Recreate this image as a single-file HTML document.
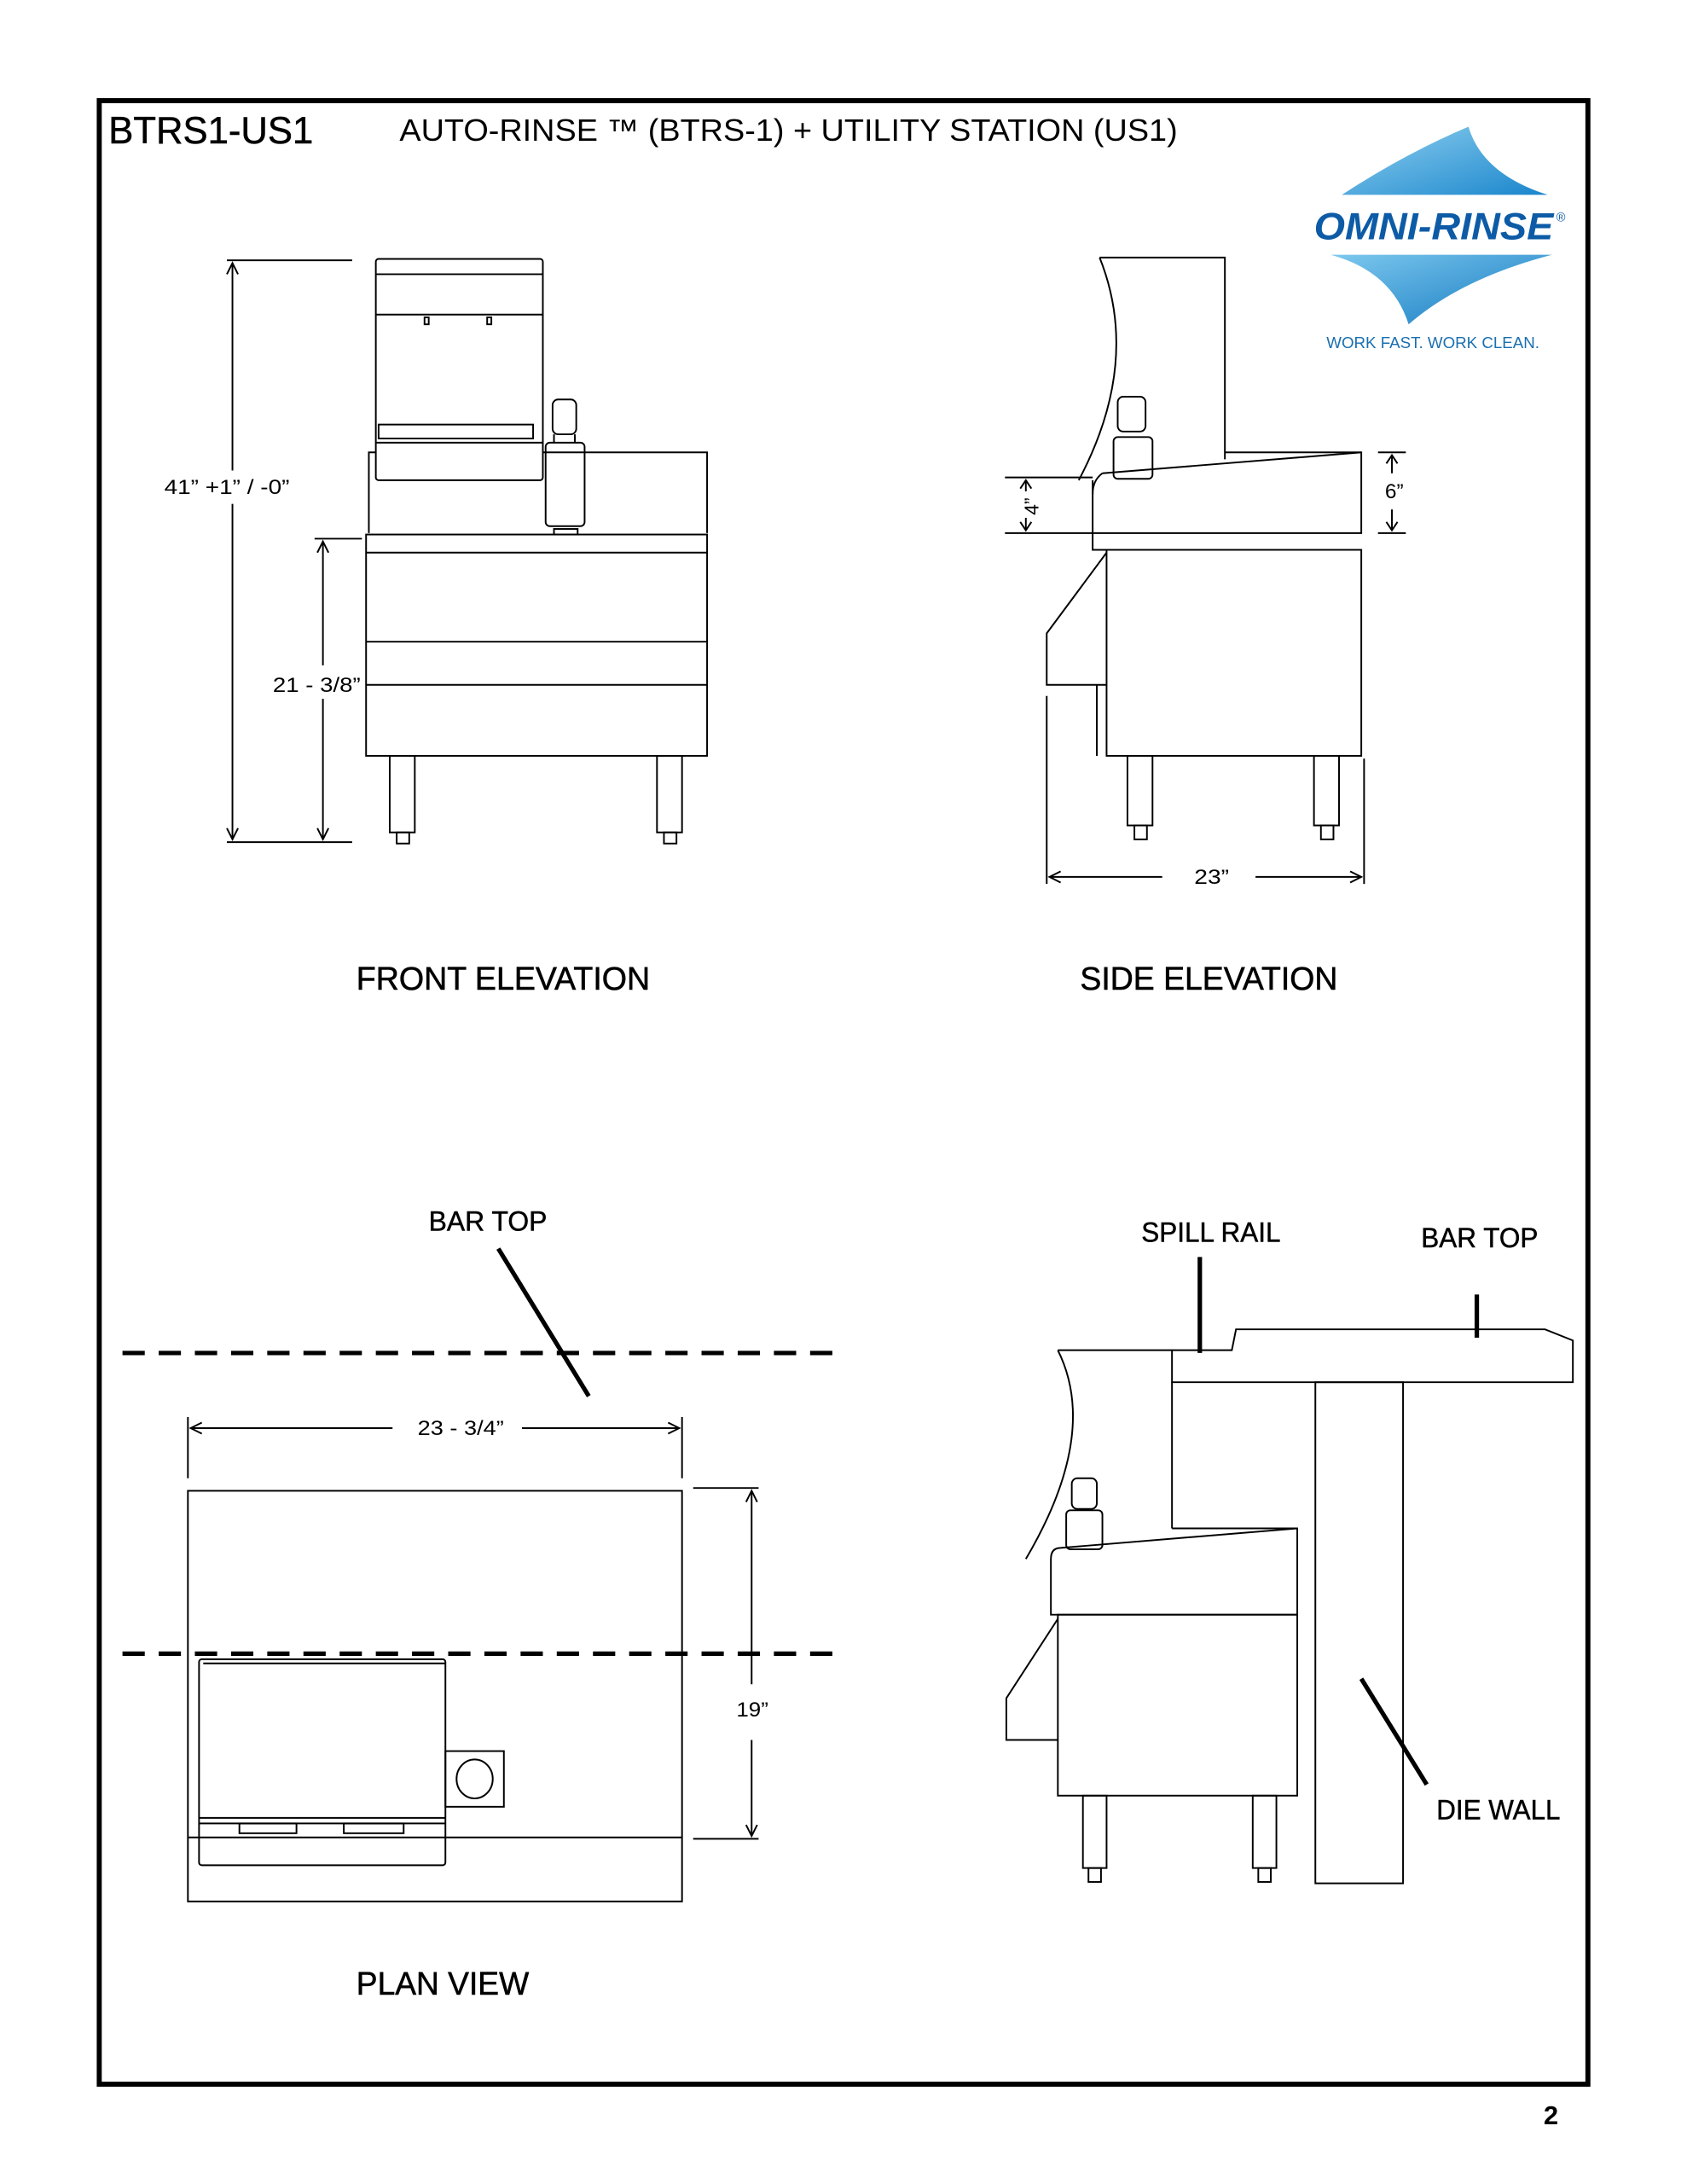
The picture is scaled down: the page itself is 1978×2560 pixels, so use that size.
<!DOCTYPE html>
<html><head><meta charset="utf-8">
<style>
html,body{margin:0;padding:0;background:#fff;}
svg{display:block;}
text{font-family:"Liberation Sans",sans-serif;}
</style></head>
<body>
<svg width="1978" height="2560" viewBox="0 0 1212 1569" preserveAspectRatio="none" xmlns="http://www.w3.org/2000/svg">
<defs>
<linearGradient id="g1" x1="0" y1="0" x2="1" y2="1">
<stop offset="0" stop-color="#8fd0f0"/><stop offset="1" stop-color="#1a86cc"/>
</linearGradient>
<linearGradient id="g2" x1="0" y1="0" x2="1" y2="1">
<stop offset="0" stop-color="#7cc8ee"/><stop offset="1" stop-color="#1278c0"/>
</linearGradient>
</defs>
<rect x="0" y="0" width="1212" height="1569" fill="#fff"/>
<!-- frame -->
<rect x="71.3" y="72.3" width="1069.5" height="1425" fill="none" stroke="#000" stroke-width="3.6"/>
<text x="78" y="103" font-size="27" stroke="#000" stroke-width="0.3" textLength="147" lengthAdjust="spacingAndGlyphs">BTRS1-US1</text>
<text x="287" y="101" font-size="22" textLength="559" lengthAdjust="spacingAndGlyphs">AUTO-RINSE ™ (BTRS-1) + UTILITY STATION (US1)</text>
<!-- logo -->
<path d="M964,140 Q1010,110 1055,91 Q1065,125 1112,140 Z" fill="url(#g1)"/>
<path d="M956,183 L1115,183 Q1050,200 1012,233 Q1000,195 956,183 Z" fill="url(#g2)"/>
<text x="944" y="172" font-size="27" font-weight="bold" font-style="italic" fill="#0d5ba6" textLength="172" lengthAdjust="spacingAndGlyphs">OMNI-RINSE</text>
<text x="1118" y="159" font-size="9" fill="#0d5ba6">®</text>
<text x="953" y="250" font-size="11.5" fill="#1a6fb0" textLength="153" lengthAdjust="spacingAndGlyphs">WORK FAST. WORK CLEAN.</text>

<g fill="none" stroke="#000" stroke-width="1.2">
<!-- FRONT ELEVATION dims -->
<line x1="163" y1="187" x2="253" y2="187"/>
<line x1="163" y1="605" x2="253" y2="605"/>
<line x1="167" y1="189" x2="167" y2="338"/>
<line x1="167" y1="362" x2="167" y2="603"/>
<path d="M163,197 L167,189 L171,197 M163,595 L167,603 L171,595"/>
<line x1="226" y1="387" x2="260" y2="387"/>
<line x1="232" y1="389" x2="232" y2="478"/>
<line x1="232" y1="502" x2="232" y2="603"/>
<path d="M228,397 L232,389 L236,397 M228,595 L232,603 L236,595"/>
<!-- tower -->
<rect x="270" y="186" width="120" height="159" rx="2"/>
<line x1="270" y1="197" x2="390" y2="197"/>
<line x1="270" y1="226" x2="390" y2="226"/>
<rect x="305" y="228" width="3" height="5"/>
<rect x="350" y="228" width="3" height="5"/>
<rect x="272" y="305" width="111" height="10"/>
<line x1="270" y1="318" x2="390" y2="318"/>
<!-- backsplash box -->
<path d="M270,325 L265,325 L265,383 M390,325 L508,325 L508,383"/>
<!-- faucet -->
<rect x="397" y="287" width="17" height="25" rx="4"/>
<rect x="392" y="318" width="28" height="60" rx="3"/>
<line x1="398" y1="312" x2="398" y2="318"/><line x1="413" y1="312" x2="413" y2="318"/>
<rect x="398" y="380" width="17" height="4"/>
<!-- base cabinet -->
<rect x="263" y="384" width="245" height="159"/>
<line x1="263" y1="397" x2="508" y2="397"/>
<line x1="263" y1="461" x2="508" y2="461"/>
<line x1="263" y1="492" x2="508" y2="492"/>
<rect x="280" y="543" width="18" height="55"/>
<rect x="285" y="598" width="9" height="8"/>
<rect x="472" y="543" width="18" height="55"/>
<rect x="477" y="598" width="9" height="8"/>

<!-- SIDE ELEVATION -->
<path d="M790,185 L880,185 L880,330"/>
<path d="M790,185 Q820,260 775,345"/>
<path d="M785,345 L785,383 L978,383 L978,325 L880,325"/>
<path d="M792,340 Q785,345 785,355"/>
<path d="M792,340 L978,325"/>
<rect x="800" y="314" width="28" height="30" rx="3"/>
<rect x="803" y="285" width="20" height="25" rx="4"/>
<path d="M785,383 L785,395 L795,395"/>
<rect x="795" y="395" width="183" height="148"/>
<path d="M795,397 L752,455 L752,492 L795,492"/>
<line x1="788" y1="492" x2="788" y2="543"/>
<rect x="810" y="543" width="18" height="50"/>
<rect x="815" y="593" width="9" height="10"/>
<rect x="944" y="543" width="18" height="50"/>
<rect x="949" y="593" width="9" height="10"/>
<!-- 4" -->
<line x1="722" y1="343" x2="785" y2="343"/>
<line x1="722" y1="383" x2="785" y2="383"/>
<line x1="737" y1="345" x2="737" y2="353"/>
<line x1="737" y1="372" x2="737" y2="381"/>
<path d="M733,351 L737,345 L741,351 M733,375 L737,381 L741,375"/>
<!-- 6" -->
<line x1="990" y1="325" x2="1010" y2="325"/>
<line x1="990" y1="383" x2="1010" y2="383"/>
<line x1="1000" y1="327" x2="1000" y2="340"/>
<line x1="1000" y1="366" x2="1000" y2="381"/>
<path d="M996,333 L1000,327 L1004,333 M996,375 L1000,381 L1004,375"/>
<!-- 23" -->
<line x1="752" y1="500" x2="752" y2="635"/>
<line x1="980" y1="545" x2="980" y2="635"/>
<line x1="754" y1="630" x2="835" y2="630"/>
<line x1="902" y1="630" x2="978" y2="630"/>
<path d="M762,626 L754,630 L762,634 M970,626 L978,630 L970,634"/>

<!-- PLAN VIEW -->
<line x1="135" y1="1018" x2="135" y2="1062"/>
<line x1="490" y1="1018" x2="490" y2="1062"/>
<line x1="137" y1="1026" x2="282" y2="1026"/>
<line x1="375" y1="1026" x2="488" y2="1026"/>
<path d="M145,1022 L137,1026 L145,1030 M480,1022 L488,1026 L480,1030"/>
<rect x="135" y="1071" width="355" height="295"/>
<line x1="135" y1="1320" x2="490" y2="1320"/>
<rect x="143" y="1192" width="177" height="148" rx="2"/>
<line x1="146" y1="1195" x2="320" y2="1195"/>
<line x1="143" y1="1306" x2="320" y2="1306"/>
<line x1="143" y1="1310" x2="320" y2="1310"/>
<rect x="172" y="1310" width="41" height="7"/>
<rect x="247" y="1310" width="43" height="7"/>
<rect x="320" y="1258" width="42" height="40"/>
<ellipse cx="341" cy="1278" rx="13" ry="14"/>
<line x1="498" y1="1069" x2="545" y2="1069"/>
<line x1="498" y1="1321" x2="545" y2="1321"/>
<line x1="540" y1="1071" x2="540" y2="1210"/>
<line x1="540" y1="1250" x2="540" y2="1319"/>
<path d="M536,1079 L540,1071 L544,1079 M536,1311 L540,1319 L544,1311"/>

<!-- BAR SECTION -->
<path d="M842,993 L842,970 L885,970 L888,955 L1110,955 L1130,963 L1130,993 L842,993 Z"/>
<rect x="945" y="993" width="63" height="360"/>
<path d="M760,970 L842,970"/>
<path d="M760,970 Q790,1030 737,1120"/>
<line x1="842" y1="993" x2="842" y2="1098"/>
<path d="M762,1112 L932,1098 L932,1160 L755,1160 L755,1120 Q755,1112 762,1112"/>
<line x1="842" y1="1098" x2="932" y2="1098"/>
<rect x="766" y="1085" width="26" height="28" rx="3"/>
<rect x="770" y="1062" width="18" height="22" rx="4"/>
<rect x="760" y="1160" width="172" height="130"/>
<path d="M760,1163 L723,1220 L723,1250 L760,1250"/>
<rect x="778" y="1290" width="17" height="52"/>
<rect x="782" y="1342" width="9" height="10"/>
<rect x="900" y="1290" width="17" height="52"/>
<rect x="904" y="1342" width="9" height="10"/>
</g>

<!-- thick leader lines -->
<g stroke="#000" stroke-width="3.2" fill="none">
<line x1="358" y1="897" x2="423" y2="1003"/>
<line x1="862" y1="903" x2="862" y2="972"/>
<line x1="1061" y1="930" x2="1061" y2="961"/>
<line x1="978" y1="1206" x2="1025" y2="1282"/>
<line x1="88" y1="972" x2="600" y2="972" stroke-dasharray="16,10"/>
<line x1="88" y1="1188" x2="600" y2="1188" stroke-dasharray="16,10"/>
</g>

<!-- labels -->
<g font-size="15" fill="#000" lengthAdjust="spacingAndGlyphs">
<text x="118" y="355" textLength="90" lengthAdjust="spacingAndGlyphs">41” +1” / -0”</text>
<text x="196" y="497" textLength="63" lengthAdjust="spacingAndGlyphs">21 - 3/8”</text>
<text x="732" y="368" font-size="14" transform="rotate(-90 740 362)">4”</text>
<text x="995" y="358">6”</text>
<text x="858" y="635" textLength="25" lengthAdjust="spacingAndGlyphs">23”</text>
<text x="300" y="1031" textLength="62" lengthAdjust="spacingAndGlyphs">23 - 3/4”</text>
<text x="529" y="1233" textLength="23" lengthAdjust="spacingAndGlyphs">19”</text>
</g>
<g font-size="23" fill="#000" stroke="#000" stroke-width="0.35">
<text x="256" y="711" textLength="211" lengthAdjust="spacingAndGlyphs">FRONT ELEVATION</text>
<text x="776" y="711" textLength="185" lengthAdjust="spacingAndGlyphs">SIDE ELEVATION</text>
<text x="256" y="1433" textLength="124" lengthAdjust="spacingAndGlyphs">PLAN VIEW</text>
</g>
<g font-size="20" fill="#000" stroke="#000" stroke-width="0.3">
<text x="308" y="884" textLength="85" lengthAdjust="spacingAndGlyphs">BAR TOP</text>
<text x="820" y="892" textLength="100" lengthAdjust="spacingAndGlyphs">SPILL RAIL</text>
<text x="1021" y="896" textLength="84" lengthAdjust="spacingAndGlyphs">BAR TOP</text>
<text x="1032" y="1307" textLength="89" lengthAdjust="spacingAndGlyphs">DIE WALL</text>
</g>
<text x="1109" y="1526" font-size="19" font-weight="bold">2</text>
</svg>
</body></html>
